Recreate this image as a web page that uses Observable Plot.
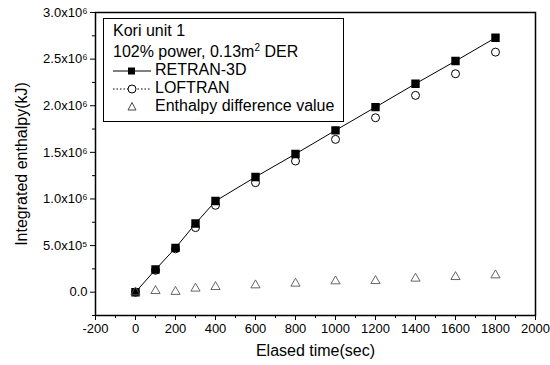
<!DOCTYPE html>
<html>
<head>
<meta charset="utf-8">
<script src="https://cdn.jsdelivr.net/npm/d3@7"></script>
<script src="https://cdn.jsdelivr.net/npm/@observablehq/plot@0.6"></script>
<style>
  html, body { margin: 0; padding: 0; background: #fff; }
  #wrap { position: relative; width: 550px; height: 365px; font-family: "Liberation Sans", Arial, sans-serif; }
  #legend { position: absolute; left: 103px; top: 18px; width: 241px; height: 104px; border: 1px solid #000; box-sizing: border-box; background: #fff; font-size: 16px; line-height: 18px; color: #000; }
  #legend .row { position: absolute; left: 9px; white-space: nowrap; }
  #legend svg { position: absolute; left: 8px; }
</style>
</head>
<body>
<div id="wrap"></div>
<script>
// Data
const time = [0, 100, 200, 300, 400, 600, 800, 1000, 1200, 1400, 1600, 1800];
const retran = [0, 2.43e5, 4.75e5, 7.36e5, 9.78e5, 1.236e6, 1.483e6, 1.736e6, 1.985e6, 2.236e6, 2.479e6, 2.729e6];
const loftran = [0, 2.35e5, 4.65e5, 6.93e5, 9.32e5, 1.175e6, 1.407e6, 1.639e6, 1.871e6, 2.111e6, 2.343e6, 2.575e6];
const diff = [0, 1.4e4, 0.5e4, 4.0e4, 5.7e4, 7.5e4, 9.3e4, 1.18e5, 1.21e5, 1.47e5, 1.64e5, 1.82e5];

const xTicks = [-200, 0, 200, 400, 600, 800, 1000, 1200, 1400, 1600, 1800, 2000];
const xMinor = [-100, 100, 300, 500, 700, 900, 1100, 1300, 1500, 1700, 1900];
const yTicks = [0, 5e5, 1e6, 1.5e6, 2e6, 2.5e6, 3e6];
const yTickLabels = ["0.0", "5.0x10\u2075", "1.0x10\u2076", "1.5x10\u2076", "2.0x10\u2076", "2.5x10\u2076", "3.0x10\u2076"];
const yMinor = [-2.5e5, 2.5e5, 7.5e5, 1.25e6, 1.75e6, 2.25e6, 2.75e6];

const rows = time.map((t, i) => ({t, retran: retran[i], loftran: loftran[i], diff: diff[i]}));

const chart = Plot.plot({
  width: 550,
  height: 365,
  marginLeft: 95,
  marginRight: 15,
  marginTop: 12,
  marginBottom: 50,
  style: {fontFamily: "'Liberation Sans', Arial, sans-serif", fontSize: "12px", color: "#000", background: "#fff"},
  x: {domain: [-200, 2000]},
  y: {domain: [-2.5e5, 3e6]},
  marks: [
    Plot.frame({stroke: "#000", strokeWidth: 1.5}),
    Plot.axisX({ticks: xTicks, tickFormat: d => String(d), tickSize: 5, tickPadding: 3, fontSize: 13, label: "Elased time(sec)", labelAnchor: "center", labelOffset: 40, labelArrow: "none"}),
    Plot.axisX({ticks: xMinor, tickFormat: () => "", tickSize: 3, label: null}),
    Plot.axisY({ticks: yTicks, tickFormat: d => yTickLabels[yTicks.indexOf(d)], tickSize: 5, tickPadding: 3, fontSize: 13, label: "Integrated enthalpy(kJ)", labelAnchor: "center", labelOffset: 80, labelArrow: "none"}),
    Plot.axisY({ticks: yMinor, tickFormat: () => "", tickSize: 3, label: null}),
    Plot.line(rows, {x: "t", y: "retran", stroke: "#000", strokeWidth: 1}),
    Plot.dot(rows, {x: "t", y: "loftran", symbol: "circle", r: 4, stroke: "#000", strokeWidth: 1, fill: "#fff"}),
    Plot.dot(rows, {x: "t", y: "retran", symbol: "square", r: 3.9, fill: "#000", stroke: "#000"}),
    Plot.dot(rows, {x: "t", y: "diff", symbol: "triangle", r: 3.4, stroke: "#555", strokeWidth: 0.9, fill: "none"})
  ]
});

chart.querySelectorAll("g[aria-label='x-axis label'] text, g[aria-label='y-axis label'] text").forEach(t => {
  t.setAttribute("font-size", "16");
  t.style.fontSize = "16px";
});

const wrap = document.getElementById("wrap");
wrap.appendChild(chart);

const legend = document.createElement("div");
legend.id = "legend";
legend.innerHTML = `
  <div class="row" style="top:3px">Kori unit 1</div>
  <div class="row" style="top:24px">102% power, 0.13m<sup style="font-size:10px;line-height:0">2</sup> DER</div>
  <svg width="40" height="14" style="top:45px"><line x1="1" y1="7" x2="39" y2="7" stroke="#000" stroke-width="1"/><rect x="16" y="3.5" width="7" height="7" fill="#000"/></svg>
  <div class="row" style="left:51px;top:42px">RETRAN-3D</div>
  <svg width="40" height="14" style="top:63px"><line x1="1" y1="7" x2="39" y2="7" stroke="#000" stroke-width="1" stroke-dasharray="1.5,2"/><circle cx="20" cy="7" r="4" fill="#fff" stroke="#000"/></svg>
  <div class="row" style="left:51px;top:60px">LOFTRAN</div>
  <svg width="40" height="14" style="top:81px"><path d="M20,2.5 L24,10 L16,10 Z" fill="none" stroke="#333" stroke-width="0.9"/></svg>
  <div class="row" style="left:51px;top:78px">Enthalpy difference value</div>
`;
wrap.appendChild(legend);
</script>
</body>
</html>
